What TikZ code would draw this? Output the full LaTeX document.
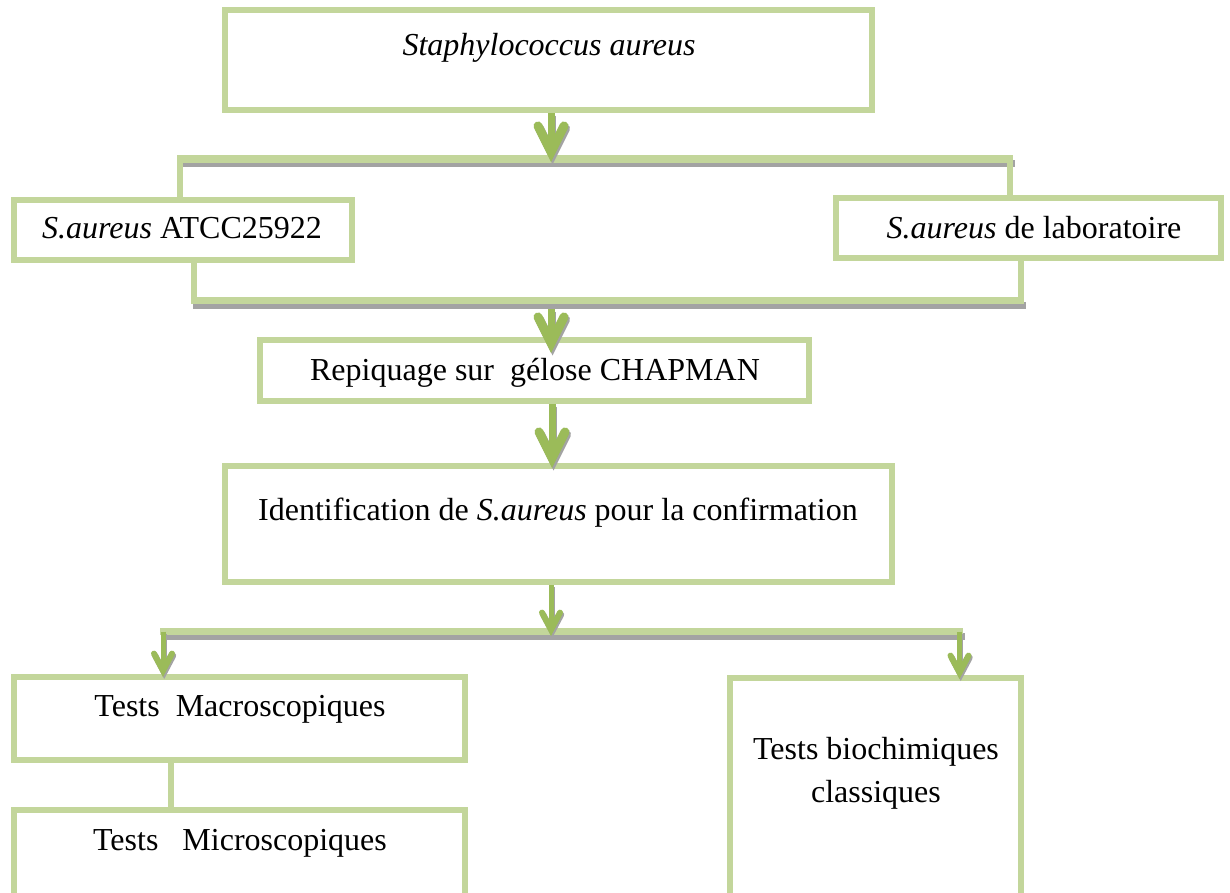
\documentclass[tikz,border=0pt]{standalone}
\usepackage{fontspec}
\setmainfont{Liberation Serif}
\usetikzlibrary{arrows.meta}
\definecolor{boxgreen}{HTML}{C3D69B}
\definecolor{arrowgreen}{HTML}{9BBB59}
\definecolor{shadowgray}{HTML}{A3A3A3}
\begin{document}
\begin{tikzpicture}[x=1pt,y=-1pt,
  box/.style 2 args={draw=boxgreen, line width=6pt, rectangle, inner sep=0pt,
     minimum width=#1, minimum height=#2},
  txt/.style={inner sep=0pt, font=\fontsize{32}{43}\selectfont},
  bar/.style={draw=boxgreen, line width=7.5pt,
     preaction={draw=shadowgray, line width=7pt, transform canvas={shift={(2pt,-4.5pt)}}}},
  drop/.style={draw=boxgreen, line width=6pt},
  bigtip/.style={-{Straight Barb[length=26pt,width=26pt,line width=9pt,line cap=round,line join=miter]}},
  smalltip/.style={-{Straight Barb[length=17pt,width=18pt,line width=6pt,line cap=round,line join=miter]}},
  bigarrow/.style={draw=arrowgreen, line width=7pt, bigtip,
     preaction={draw=shadowgray, line width=7pt, bigtip, transform canvas={shift={(1.5pt,-2.5pt)}}}},
  smallarrow/.style={draw=arrowgreen, line width=5pt, smalltip,
     preaction={draw=shadowgray, line width=5pt, smalltip, transform canvas={shift={(1.2pt,-2pt)}}}}
]
\useasboundingbox (0,0) rectangle (1230,892);
\clip (0,0) rectangle (1230,892);
\fill[white] (0,0) rectangle (1230,892);

% boxes
\node[box={647pt}{100pt}] (A) at (548,60) {};
\node[box={338pt}{60pt}] (B) at (183,229.5) {};
\node[box={385pt}{60.5pt}] (C) at (1028.5,227.75) {};
\node[box={549.5pt}{61pt}] (D) at (534.25,370.5) {};
\node[box={667.5pt}{116pt}] (E) at (558.25,524) {};
\node[box={450.5pt}{83.5pt}] (F) at (239.25,718.25) {};
\node[box={450.5pt}{100pt}] (G) at (239.25,860) {};
\node[box={291.5pt}{232pt}] (H) at (875.25,794) {};

% texts
\node[txt, anchor=base] (tA) at (549,55) {\textit{Staphylococcus aureus}};
\node[txt, anchor=base] (tB) at (182,238) {\textit{S.aureus} ATCC25922};
\node[txt, anchor=base] (tC) at (1034,238) {\textit{S.aureus} de laboratoire};
\node[txt, anchor=base] (tD) at (535,380) {Repiquage sur~~gélose CHAPMAN};
\node[txt, anchor=base] (tE) at (558,520) {Identification de \textit{S.aureus} pour la confirmation};
\node[txt, anchor=base] (tF) at (240,716) {Tests~~Macroscopiques};
\node[txt, anchor=base] (tG) at (240,850) {Tests~~~Microscopiques};
\node[txt, align=center] (tH) at (876,773) {Tests biochimiques\\classiques};

% bar coordinates
\coordinate (b1L) at (180,159);
\coordinate (b1R) at (1009.5,159);
\coordinate (b2L) at (194,300.5);
\coordinate (b2R) at (1021,300.5);
\coordinate (b3L) at (163,631.5);
\coordinate (b3R) at (959.5,631.5);
% arrow tips / starts
\coordinate (t1) at (551,162);
\coordinate (s2) at (551,309);
\coordinate (t2) at (551,353);
\coordinate (t3) at (552,468);
\coordinate (t4) at (551,636);
\coordinate (t5) at (163,677);
\coordinate (t6) at (959.5,679);
\coordinate (fg) at (171,785);

% bars
\draw[bar] ([xshift=-3pt]b1L) -- ([xshift=3pt]b1R);
\draw[bar] ([xshift=-3pt]b2L) -- ([xshift=3pt]b2R);
\draw[bar] ([xshift=-3pt]b3L) -- ([xshift=3pt]b3R);

% drops
\draw[drop] (b1L) -- (b1L |- B.north);
\draw[drop] (b1R) -- (b1R |- C.north);
\draw[drop] (b2L |- B.south) -- (b2L);
\draw[drop] (b2R |- C.south) -- (b2R);
\draw[drop] (fg |- F.south) -- (fg |- G.north);

% arrows
\draw[bigarrow] (t1 |- A.south) -- (t1);
\draw[bigarrow] (s2) -- (t2);
\draw[bigarrow] (t3 |- D.south) -- (t3);
\draw[smallarrow] (t4 |- E.south) -- (t4);
\draw[smallarrow] (b3L) -- (t5);
\draw[smallarrow] (b3R) -- (t6);
\end{tikzpicture}
\end{document}
